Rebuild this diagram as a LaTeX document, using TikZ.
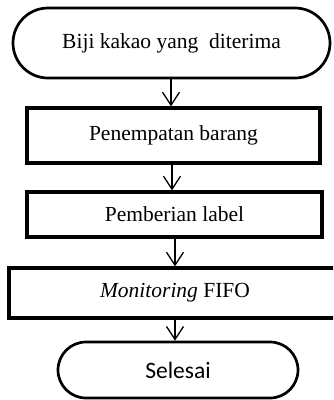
\documentclass[tikz,border=0pt]{standalone}
\usepackage{fontspec}
\setmainfont{Liberation Serif}
\newfontfamily\calibrilike{Carlito}
\usetikzlibrary{shapes.misc,arrows.meta}
\begin{document}
\begin{tikzpicture}[x=1pt,y=-1pt,
  terminal/.style={rounded rectangle, draw, line width=2.7pt, inner sep=0pt,
    font=\fontsize{21.5}{24}\selectfont},
  process/.style={rectangle, draw, line width=3.3pt, inner sep=0pt,
    font=\fontsize{21.5}{24}\selectfont},
  flow/.style={line width=1.3pt, -{Straight Barb[length=13pt,width=17pt,line width=1.3pt]}}]
  \clip (0,0) rectangle (333,400);
  \useasboundingbox (0,0) rectangle (333,400);
  % start and end terminals
  \node[terminal, minimum width=317pt, minimum height=70pt] (start) at (171.5,43) {Biji kakao yang\ \ diterima};
  \node[terminal, minimum width=240pt, minimum height=56pt,
        font=\calibrilike\fontsize{23.5}{26}\selectfont] (end) at (178,370) {Selesai};
  % process steps
  \node[process, minimum width=293pt, minimum height=55pt] (place) at (173.5,135.5) {Penempatan barang};
  \node[process, minimum width=295pt, minimum height=45pt] (label) at (174.5,214.5) {Pemberian label};
  \node[process, minimum width=332pt, minimum height=50pt] (fifo) at (175,293) {\textit{Monitoring} FIFO};
  % connectors
  \draw[flow] (start.south -| 171,0) -- (place.north -| 171,0);
  \draw[flow] (place.south -| 172,0) -- (label.north -| 172,0);
  \draw[flow] (label.south -| 175,0) -- (fifo.north -| 175,0);
  \draw[flow] (fifo.south -| 175,0) -- (end.north -| 175,0);
\end{tikzpicture}
\end{document}
